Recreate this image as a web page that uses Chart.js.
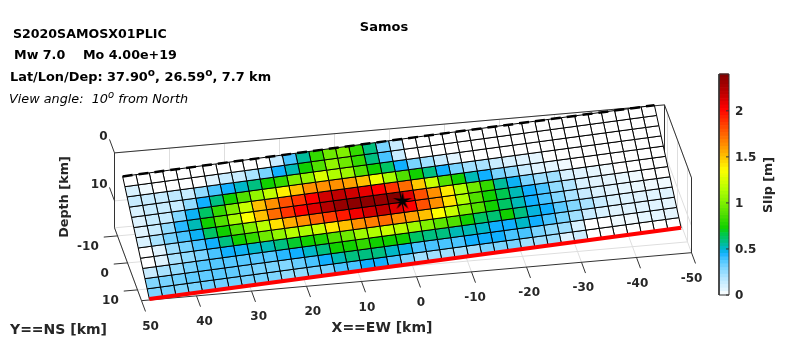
<!DOCTYPE html>
<html>
<head>
<meta charset="utf-8">
<style>
  html, body { margin: 0; padding: 0; background: #ffffff; }
  canvas { display: block; }
</style>
<script src="https://cdn.jsdelivr.net/npm/chart.js@4"></script>
</head>
<body>
<canvas id="slip-chart" width="785" height="362"></canvas>
<script>
// slip [m] per fault patch, rows run from the surface down dip, columns from X=50 to X=-50
const slipRow0 = [0,0,0,0,0,0,0,0,0,0,0,.13,.38,.55,.8,.95,1,.8,.58,.3,.13,0,0,0,0,0,0,0,0,0,0,0,0,0,0,0,0,0,0,0];
const slipRow1 = [.08,.03,0,0,0,0,.06,.13,.13,.2,.3,.45,.52,.72,.87,1.05,.95,.8,.58,.38,.13,0,0,0,0,0,0,0,0,0,0,0,0,0,0,0,0,0,0,0];
const slipRow2 = [.13,.13,.13,.15,.13,.25,.38,.45,.5,.58,.72,.8,1,1.05,1.25,1.13,1.08,.87,.72,.62,.45,.3,.22,.13,.06,0,0,0,0,0,0,0,0,0,0,0,0,0,0,0];
const slipRow3 = [.08,.13,.13,.13,.25,.45,.58,.72,.87,1.05,1.18,1.38,1.5,1.62,1.62,1.62,1.58,1.5,1.3,1.1,.87,.72,.58,.45,.3,.22,.2,.13,.08,.06,.05,0,0,0,0,0,0,0,0,0];
const slipRow4 = [.07,.13,.14,.28,.46,.62,.8,1,1.2,1.5,1.62,1.8,1.88,2.02,2.14,2.18,2.14,2.08,2.02,1.88,1.72,1.48,1.2,.87,.72,.52,.45,.3,.25,.13,.06,.05,.03,0,0,0,0,0,0,0];
const slipRow5 = [.06,.13,.25,.42,.52,.72,.87,1.1,1.35,1.5,1.72,1.88,2.02,2.1,2.22,2.32,2.36,2.36,2.32,2.38,2.1,1.8,1.62,1.4,1.13,.95,.8,.55,.46,.3,.22,.22,.08,.06,.05,.03,0,0,0,0];
const slipRow6 = [.08,.2,.3,.38,.46,.62,.72,.87,1,1.15,1.42,1.55,1.62,1.75,1.85,1.95,2.05,2.14,2.18,2.1,2.02,1.8,1.62,1.42,1.13,.87,.72,.65,.52,.45,.38,.25,.18,.08,.06,.05,.04,.03,0,0];
const slipRow7 = [0,.06,.22,.3,.38,.45,.58,.72,.8,.95,1.05,1.15,1.12,1.2,1.4,1.5,1.62,1.67,1.72,1.62,1.58,1.5,1.35,1.2,1,.87,.72,.62,.52,.45,.38,.28,.2,.13,.08,.06,.05,.04,.03,.03];
const slipRow8 = [0,.06,.2,.25,.3,.38,.45,.46,.5,.52,.58,.68,.72,.75,.87,.95,1.08,1.13,1.2,1.15,1.08,1,.9,.87,.72,.62,.6,.72,.58,.48,.45,.35,.28,.2,.13,.08,.07,.06,.06,.06];
const slipRow9 = [.13,.2,.25,.3,.36,.36,.36,.36,.36,.36,.42,.45,.5,.58,.72,.72,.8,.72,.72,.72,.62,.58,.58,.52,.52,.5,.45,.45,.5,.45,.38,.3,.22,.13,.08,.06,.06,.06,.06,.05];
const slipRow10 = [.28,.3,.31,.34,.34,.35,.34,.32,.3,.3,.28,.33,.38,.45,.52,.58,.58,.58,.5,.47,.38,.38,.38,.38,.45,.45,.45,.38,.38,.3,.25,.22,.08,0,0,.03,.03,.05,.05,.05];
const slipRow11 = [.29,.31,.29,.3,.32,.31,.31,.3,.3,.29,.25,.25,.3,.3,.38,.38,.45,.45,.38,.3,.22,.22,.22,.22,.22,.3,.3,.3,.22,.22,.22,.07,.12,0,0,0,0,0,0,0];
const slipRows = [slipRow0, slipRow1, slipRow2, slipRow3, slipRow4, slipRow5, slipRow6, slipRow7, slipRow8, slipRow9, slipRow10, slipRow11];

const xTicks = [50, 40, 30, 20, 10, 0, -10, -20, -30, -40, -50];
const yTicks = [-10, 0, 10];
const zTicks = [0, 10];
const slipTicks = [0, 0.5, 1, 1.5, 2];

// axes limits in km
const xLim = [50, -50];
const yLim = [-13, 14];
const zLim = [0, 15.6];
const slipMax = 2.4;

// fault plane corners [X, Y, Z] in km, hypocentre at the origin
const faultTopLeft = [50.1, -4.3, 0];
const faultTopRight = [-48.2, -13.2, 0];
const faultDip = [-1.4, 19, 15];
const hypocentre = [0, 0, 7.7];

// colormap stops
const cmapValues = [0, .06, .13, .22, .3, .38, .45, .5, .58, .65, .72, .87, 1, 1.13, 1.35, 1.5, 1.62, 1.8, 2.02, 2.18, 2.4];
const cmapColors = ['#ffffff','#e0f4ff','#c8ecff','#a0e0ff','#78d4ff','#48c4ff','#10b0ff','#00b8c8','#00c080','#00c850','#10d000','#50e000','#80f000','#b0ff00','#ffff00','#ffc000','#ff9000','#ff5000','#ff0000','#c00000','#800000'];

function hexToRgb(h) {
    return [parseInt(h.slice(1, 3), 16), parseInt(h.slice(3, 5), 16), parseInt(h.slice(5, 7), 16)];
}

function slipColor(v) {
    let i = 0;
    while (i < cmapValues.length - 2 && v > cmapValues[i + 1]) i++;
    const t = Math.min(1, Math.max(0, (v - cmapValues[i]) / (cmapValues[i + 1] - cmapValues[i])));
    const a = hexToRgb(cmapColors[i]);
    const b = hexToRgb(cmapColors[i + 1]);
    return `rgb(${a.map((c, k) => Math.round(c + (b[k] - c) * t)).join(',')})`;
}

// matlab style orthographic view, km to view units
function project(X, Y, Z) {
    return { x: 402.5 - 5.5 * X + Y, y: 164 + 0.48 * X + 2.7 * Y + 4.8 * Z };
}

function faultPoint(u, v) {
    const nCols = slipRow0.length;
    const nRows = slipRows.length;
    const p = [0, 1, 2].map(k =>
        faultTopLeft[k] + (faultTopRight[k] - faultTopLeft[k]) * u / nCols + faultDip[k] * v / nRows);
    return project(p[0], p[1], p[2]);
}

const datasets = [];

function addLine(points, color, width, order, dash) {
    datasets.push({
        type: 'line',
        data: points,
        borderColor: color,
        borderWidth: width,
        borderDash: dash || [],
        pointRadius: 0,
        tension: 0,
        fill: false,
        order: order
    });
}

function addCell(points, color, border, width, order) {
    datasets.push({
        type: 'line',
        data: points,
        borderColor: border,
        backgroundColor: color,
        borderWidth: width,
        pointRadius: 0,
        tension: 0,
        fill: 'shape',
        order: order
    });
}

// back planes grid
const gridColor = '#dedede';
xTicks.forEach(X => {
    addLine([project(X, yLim[0], zLim[0]), project(X, yLim[0], zLim[1]), project(X, yLim[1], zLim[1])], gridColor, 1, 5);
});
yTicks.forEach(Y => {
    addLine([project(xLim[0], Y, zLim[1]), project(xLim[1], Y, zLim[1]), project(xLim[1], Y, zLim[0])], gridColor, 1, 5);
});
zTicks.forEach(Z => {
    addLine([project(xLim[0], yLim[0], Z), project(xLim[1], yLim[0], Z), project(xLim[1], yLim[1], Z)], gridColor, 1, 5);
});
addLine([project(xLim[0], yLim[0], zLim[1]), project(xLim[1], yLim[0], zLim[1])], gridColor, 1, 5);

// axes box
const boxColor = '#333333';
const boxPaths = [
    [project(xLim[0], yLim[1], zLim[1]), project(xLim[0], yLim[0], zLim[1]), project(xLim[0], yLim[0], zLim[0]), project(xLim[1], yLim[0], zLim[0]), project(xLim[1], yLim[1], zLim[0]), project(xLim[1], yLim[1], zLim[1]), project(xLim[0], yLim[1], zLim[1])],
    [project(xLim[1], yLim[0], zLim[0]), project(xLim[1], yLim[0], zLim[1] * 0.62)]
];
boxPaths.forEach(p => addLine(p, boxColor, 1, 4));

// ticks
xTicks.forEach(X => addLine([project(X, yLim[1], zLim[1]), project(X, yLim[1] + 4, zLim[1])], boxColor, 1, 4));
yTicks.forEach(Y => addLine([project(xLim[0], Y, zLim[1]), project(xLim[0] + 2.5, Y, zLim[1])], boxColor, 1, 4));
zTicks.forEach(Z => addLine([project(xLim[0], yLim[0], Z), project(xLim[0], yLim[0] - 5, Z)], boxColor, 1, 4));

// fault patches
slipRows.forEach((row, r) => {
    row.forEach((slip, c) => {
        const a = faultPoint(c, r), b = faultPoint(c + 1, r), d = faultPoint(c + 1, r + 1), e = faultPoint(c, r + 1);
        addCell([a, b, d, e, a], slipColor(slip), '#000000', 1, 3);
    });
});

// surface trace and bottom edge
addLine([faultPoint(0, 0), faultPoint(slipRow0.length, 0)], '#000000', 2.5, 2, [10, 6]);
addLine([faultPoint(0, slipRows.length), faultPoint(slipRow0.length, slipRows.length)], '#ff0000', 4, 2);

// colorbar, a column in view units
const barLeft = 719, barRight = 729, barBottom = 295, barTop = 74, barLevels = 64;
function barY(v) {
    return barBottom - (barBottom - barTop) * v / slipMax;
}
for (let i = 0; i < barLevels; i++) {
    const lo = slipMax * i / barLevels, hi = slipMax * (i + 1) / barLevels;
    const col = slipColor((lo + hi) / 2);
    addCell([{x: barLeft + 0.5, y: barY(lo)}, {x: barRight - 0.5, y: barY(lo)}, {x: barRight - 0.5, y: barY(hi)}, {x: barLeft + 0.5, y: barY(hi)}, {x: barLeft + 0.5, y: barY(lo)}],
        col, col, 1, 3);
}
addLine([{x: barLeft, y: barBottom}, {x: barRight, y: barBottom}, {x: barRight, y: barTop}, {x: barLeft, y: barTop}, {x: barLeft, y: barBottom}], boxColor, 1, 2);
slipTicks.forEach(v => addLine([{x: barRight - 3, y: barY(v)}, {x: barRight, y: barY(v)}], boxColor, 1, 2));

// hypocentre star
const starCanvas = document.createElement('canvas');
starCanvas.width = 22;
starCanvas.height = 22;
const starCtx = starCanvas.getContext('2d');
starCtx.beginPath();
for (let i = 0; i < 10; i++) {
    const rad = i % 2 === 0 ? 10 : 2.8;
    const ang = -Math.PI / 2 + i * Math.PI / 5;
    starCtx.lineTo(11 + rad * Math.cos(ang), 11 + rad * Math.sin(ang));
}
starCtx.closePath();
starCtx.fillStyle = '#000000';
starCtx.fill();
datasets.push({
    type: 'scatter',
    data: [project(hypocentre[0], hypocentre[1], hypocentre[2])],
    pointStyle: starCanvas,
    order: 0
});

const textColor = '#262626';
const boldFont = size => `bold ${size}px "DejaVu Sans"`;

function put(ctx, str, x, y, font, color, align, baseline) {
    ctx.font = font;
    ctx.fillStyle = color || textColor;
    ctx.textAlign = align || 'left';
    ctx.textBaseline = baseline || 'alphabetic';
    ctx.fillText(str, x, y);
}

// text pieces in a row, raised ones are superscripts
function putRun(ctx, x, y, parts, font, supFont) {
    parts.forEach(p => {
        const sup = Array.isArray(p);
        const str = sup ? p[0] : p;
        put(ctx, str, x, sup ? y - 5 : y, sup ? supFont : font, '#000000');
        x += ctx.measureText(str).width;
    });
}

const chartText = {
    id: 'chartText',
    afterDraw(chart) {
        const ctx = chart.ctx;
        ctx.save();

        put(ctx, 'Samos', 384, 31, boldFont(13), '#000000', 'center');
        put(ctx, 'S2020SAMOSX01PLIC', 13, 38, boldFont(12.6), '#000000');
        put(ctx, 'Mw 7.0    Mo 4.00e+19', 14, 59, boldFont(12.7), '#000000');
        putRun(ctx, 10, 81, ['Lat/Lon/Dep: 37.90', ['o'], ', 26.59', ['o'], ', 7.7 km'], boldFont(12.9), boldFont(10.5));
        putRun(ctx, 9, 103, ['View angle:  10', ['o'], ' from North'], 'italic 12.8px "DejaVu Sans"', 'italic 10px "DejaVu Sans"');

        xTicks.forEach(X => {
            const p = project(X, yLim[1], zLim[1]);
            put(ctx, String(X), p.x + 4.5 + 0.09 * X, p.y + 26, boldFont(12), textColor, 'center', 'middle');
        });
        yTicks.forEach(Y => {
            const p = project(xLim[0] + 2.5, Y, zLim[1]);
            put(ctx, String(Y), p.x - 5, p.y + 9.5, boldFont(12), textColor, 'right', 'middle');
        });
        zTicks.forEach(Z => {
            const p = project(xLim[0], yLim[0] - 5, Z);
            put(ctx, String(Z), p.x - 2, p.y - 3, boldFont(12), textColor, 'right', 'middle');
        });
        slipTicks.forEach(v => {
            put(ctx, String(v), barRight + 6, barY(v) + 1, boldFont(12), textColor, 'left', 'middle');
        });

        put(ctx, 'X==EW [km]', 382, 328, boldFont(14), textColor, 'center', 'middle');
        put(ctx, 'Y==NS [km]', 10, 330, boldFont(14), textColor, 'left', 'middle');

        ctx.translate(65, 197);
        ctx.rotate(-Math.PI / 2);
        put(ctx, 'Depth [km]', 0, 0, boldFont(12.8), textColor, 'center', 'middle');
        ctx.rotate(Math.PI / 2);
        ctx.translate(-65, -197);

        ctx.translate(769, 185);
        ctx.rotate(-Math.PI / 2);
        put(ctx, 'Slip [m]', 0, 0, boldFont(12.7), textColor, 'center', 'middle');

        ctx.restore();
    }
};

new Chart(document.getElementById('slip-chart').getContext('2d'), {
    type: 'scatter',
    data: { datasets: datasets },
    options: {
        responsive: false,
        animation: false,
        events: [],
        layout: { padding: 0, autoPadding: false },
        parsing: false,
        normalized: true,
        plugins: { legend: { display: false }, tooltip: { enabled: false } },
        scales: {
            x: { type: 'linear', min: 0, max: 785, display: false },
            y: { type: 'linear', min: 0, max: 362, reverse: true, display: false }
        }
    },
    plugins: [chartText]
});
</script>
</body>
</html>
